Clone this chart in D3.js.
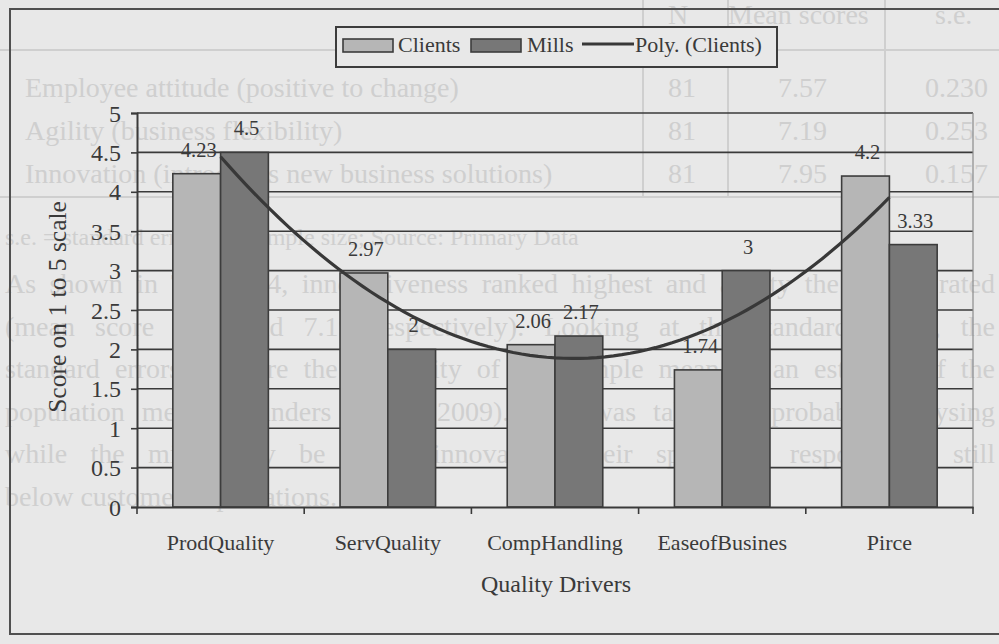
<!DOCTYPE html>
<html>
<head>
<meta charset="utf-8">
<script src="https://cdn.jsdelivr.net/npm/d3@7"></script>
<style>
  html, body { margin: 0; padding: 0; background: #e8e8e8; }
  svg { display: block; }
  text { font-family: "Liberation Serif", "Times New Roman", serif; }
</style>
</head>
<body>
<svg id="chart" width="999" height="644"></svg>
<script>
// Quality driver scores on a 1 to 5 scale
const categories = ["ProdQuality", "ServQuality", "CompHandling", "EaseofBusines", "Pirce"];
const clients = [4.23, 2.97, 2.06, 1.74, 4.2];
const mills = [4.5, 2, 2.17, 3, 3.33];
const seriesNames = ["Clients", "Mills"];
const yTickValues = [0, 0.5, 1, 1.5, 2, 2.5, 3, 3.5, 4, 4.5, 5];
const yTickLabels = ["0", "0.5", "1", "1.5", "2", "2.5", "3", "3.5", "4", "4.5", "5"];

// Faint print from the neighbouring page (table and paragraph)
const tableHeader = ["N", "Mean scores", "s.e."];
const tableRows = [
  ["Employee attitude (positive to change)", "81", "7.57", "0.230"],
  ["Agility (business flexibility)", "81", "7.19", "0.253"],
  ["Innovation (introduces new business solutions)", "81", "7.95", "0.157"]
];
const tableNote = "s.e. = standard error; n = sample size; Source: Primary Data";
const paragraph = [
  "As shown in Table 4.4, innovativeness ranked highest and agility the lowest rated",
  "(mean score 7.95 and 7.19 respectively). Looking at the standard errors, the",
  "standard errors measure the reliability of the sample mean as an estimate of the",
  "population mean (Saunders et al., 2009). This was taken as probably analysing",
  "while the mills may be fairly innovative, their speed of response is still",
  "below customer expectations."
];

const W = 999, H = 644;
const plot = { left: 137, right: 973, top: 113, bottom: 507 };
const ink = "#3a3a3a";
const ghost = "#cfcfcf";

const svg = d3.select("#chart");
svg.append("rect").attr("width", W).attr("height", H).attr("fill", "#e8e8e8");

// ---- faint show-through layer ----
const g0 = svg.append("g").attr("fill", ghost);
g0.selectAll("text.hdr").data(tableHeader).join("text")
  .attr("class", "hdr")
  .attr("x", (d, i) => [668, 728, 935][i])
  .attr("y", 24).attr("font-size", 28).text(d => d);
const rowY = [97, 140, 183];
tableRows.forEach((r, i) => {
  g0.append("text").attr("x", 25).attr("y", rowY[i]).attr("font-size", 28).text(r[0]);
  g0.append("text").attr("x", 668).attr("y", rowY[i]).attr("font-size", 28).text(r[1]);
  g0.append("text").attr("x", 778).attr("y", rowY[i]).attr("font-size", 28).text(r[2]);
  g0.append("text").attr("x", 925).attr("y", rowY[i]).attr("font-size", 28).text(r[3]);
});
[643, 728, 885].forEach(x => {
  g0.append("line").attr("x1", x).attr("x2", x).attr("y1", 0).attr("y2", 197)
    .attr("stroke", ghost).attr("stroke-width", 2);
});
[50, 197].forEach(y => {
  g0.append("line").attr("x1", 0).attr("x2", W).attr("y1", y).attr("y2", y)
    .attr("stroke", ghost).attr("stroke-width", 2);
});
g0.append("text").attr("x", 5).attr("y", 245).attr("font-size", 24).text(tableNote);
// justified paragraph: spread the slack over the word gaps
paragraph.forEach((line, i) => {
  const t = g0.append("text").attr("x", 5).attr("y", 293 + i * 42.5)
    .attr("font-size", 28).text(line);
  if (i < paragraph.length - 1) {
    const natural = t.node().getComputedTextLength();
    const gaps = (line.match(/ /g) || []).length;
    if (gaps > 0) t.attr("word-spacing", Math.max(0, (990 - natural) / gaps));
  }
});

// ---- chart frame ----
svg.append("rect").attr("x", 10).attr("y", 9).attr("width", 1020).attr("height", 625)
  .attr("fill", "none").attr("stroke", "#505050").attr("stroke-width", 2);

// ---- scales ----
const y = d3.scaleLinear().domain([0, 5]).range([plot.bottom, plot.top]);
const x0 = d3.scaleBand().domain(categories).range([plot.left, plot.right])
  .paddingInner(0).paddingOuter(0);
const x1 = d3.scaleBand().domain(seriesNames).range([0, x0.bandwidth()])
  .paddingInner(0).paddingOuter(0.75);

// gridlines
svg.append("g").selectAll("line").data(yTickValues.filter(v => v > 0)).join("line")
  .attr("x1", plot.left).attr("x2", plot.right)
  .attr("y1", d => y(d)).attr("y2", d => y(d))
  .attr("stroke", ink).attr("stroke-width", 1.6);
// plot area right edge
svg.append("line").attr("x1", plot.right).attr("x2", plot.right)
  .attr("y1", plot.top).attr("y2", plot.bottom)
  .attr("stroke", "#8a8a8a").attr("stroke-width", 1.2);

// y axis
const yAxis = d3.axisLeft(y).tickValues(yTickValues)
  .tickFormat((d, i) => yTickLabels[i]).tickSize(6).tickPadding(10);
const gy = svg.append("g").attr("transform", `translate(${plot.left},0)`).call(yAxis);
gy.select(".domain").attr("stroke", ink).attr("stroke-width", 2);
gy.selectAll(".tick line").attr("stroke", ink).attr("stroke-width", 1.6);
gy.selectAll(".tick text").attr("fill", ink).attr("font-size", 24)
  .attr("font-family", "Liberation Serif, Times New Roman, serif").attr("dy", "0.34em");

// bars
const rows = categories.map((c, i) => ({ cat: c, values: [clients[i], mills[i]] }));
const fills = { Clients: "#b6b6b6", Mills: "#777777" };
const groups = svg.append("g").selectAll("g").data(rows).join("g")
  .attr("transform", d => `translate(${x0(d.cat)},0)`);
groups.selectAll("rect").data(d => d.values.map((v, k) => ({ s: seriesNames[k], v })))
  .join("rect")
  .attr("x", d => x1(d.s)).attr("width", x1.bandwidth())
  .attr("y", d => y(d.v)).attr("height", d => y(0) - y(d.v))
  .attr("fill", d => fills[d.s]).attr("stroke", "#3c3c3c").attr("stroke-width", 1.6);

// x axis
const xAxis = d3.axisBottom(x0).tickSize(0).tickPadding(0).tickFormat(() => "");
const gx = svg.append("g").attr("transform", `translate(0,${plot.bottom})`).call(xAxis);
gx.select(".domain").attr("stroke", ink).attr("stroke-width", 2);
gx.selectAll(".tick").remove();
const edges = categories.map(c => x0(c) + x0.bandwidth()).concat([plot.left]);
gx.selectAll("line.edge").data(edges).join("line").attr("class", "edge")
  .attr("x1", d => d).attr("x2", d => d).attr("y1", 0).attr("y2", 7)
  .attr("stroke", ink).attr("stroke-width", 1.6);
svg.append("g").selectAll("text").data(categories).join("text")
  .attr("x", d => x0(d) + x0.bandwidth() / 2).attr("y", 550)
  .attr("text-anchor", "middle").attr("font-size", 22).attr("fill", ink).text(d => d);

// second-order polynomial trendline fitted to the Clients series
function polyFit2(ys) {
  const xs = ys.map((_, i) => i + 1);
  const S = k => d3.sum(xs, x => Math.pow(x, k));
  const T = k => d3.sum(xs, (x, i) => Math.pow(x, k) * ys[i]);
  const A = [[S(0), S(1), S(2), T(0)], [S(1), S(2), S(3), T(1)], [S(2), S(3), S(4), T(2)]];
  for (let c = 0; c < 3; c++) {
    for (let r = c + 1; r < 3; r++) {
      const f = A[r][c] / A[c][c];
      for (let k = c; k < 4; k++) A[r][k] -= f * A[c][k];
    }
  }
  const b = [0, 0, 0];
  for (let r = 2; r >= 0; r--) {
    let s = A[r][3];
    for (let k = r + 1; k < 3; k++) s -= A[r][k] * b[k];
    b[r] = s / A[r][r];
  }
  return x => b[0] + b[1] * x + b[2] * x * x;
}
const fit = polyFit2(clients);
const xc = d3.scaleLinear().domain([1, categories.length])
  .range([x0(categories[0]) + x0.bandwidth() / 2,
          x0(categories[categories.length - 1]) + x0.bandwidth() / 2]);
const trendPts = d3.range(1, categories.length + 0.0001, 0.05).map(t => [xc(t), y(fit(t))]);
svg.append("path").attr("d", d3.line().curve(d3.curveLinear)(trendPts))
  .attr("fill", "none").attr("stroke", "#383838").attr("stroke-width", 3.2);

// data labels
groups.selectAll("text").data(d => d.values.map((v, k) => ({ s: seriesNames[k], v })))
  .join("text")
  .attr("x", d => x1(d.s) + x1.bandwidth() / 2 + 2).attr("y", d => y(d.v) - 17)
  .attr("text-anchor", "middle").attr("font-size", 20.5).attr("fill", ink)
  .text(d => String(d.v));

// axis titles
svg.append("text").attr("x", 556).attr("y", 592).attr("text-anchor", "middle")
  .attr("font-size", 24).attr("fill", ink).text("Quality Drivers");
svg.append("text").attr("transform", "translate(66,307) rotate(-90)")
  .attr("text-anchor", "middle").attr("font-size", 25.5).attr("fill", ink)
  .text("Score on 1 to 5 scale");

// legend
const lg = svg.append("g");
lg.append("rect").attr("x", 336).attr("y", 27).attr("width", 441).attr("height", 40)
  .attr("fill", "#e8e8e8").attr("stroke", "#3c3c3c").attr("stroke-width", 2);
const legendItems = [
  { name: "Clients", type: "bar", x: 343, tx: 398 },
  { name: "Mills", type: "bar", x: 471, tx: 527 },
  { name: "Poly. (Clients)", type: "line", x: 582, tx: 635 }
];
legendItems.forEach(it => {
  if (it.type === "bar") {
    lg.append("rect").attr("x", it.x).attr("y", 39).attr("width", 50).attr("height", 13)
      .attr("fill", fills[it.name]).attr("stroke", "#3c3c3c").attr("stroke-width", 1.6);
  } else {
    lg.append("line").attr("x1", it.x).attr("x2", it.x + 52).attr("y1", 44).attr("y2", 44)
      .attr("stroke", "#383838").attr("stroke-width", 3.2);
  }
  lg.append("text").attr("x", it.tx).attr("y", 52).attr("font-size", 22)
    .attr("fill", ink).text(it.name);
});
</script>
</body>
</html>
